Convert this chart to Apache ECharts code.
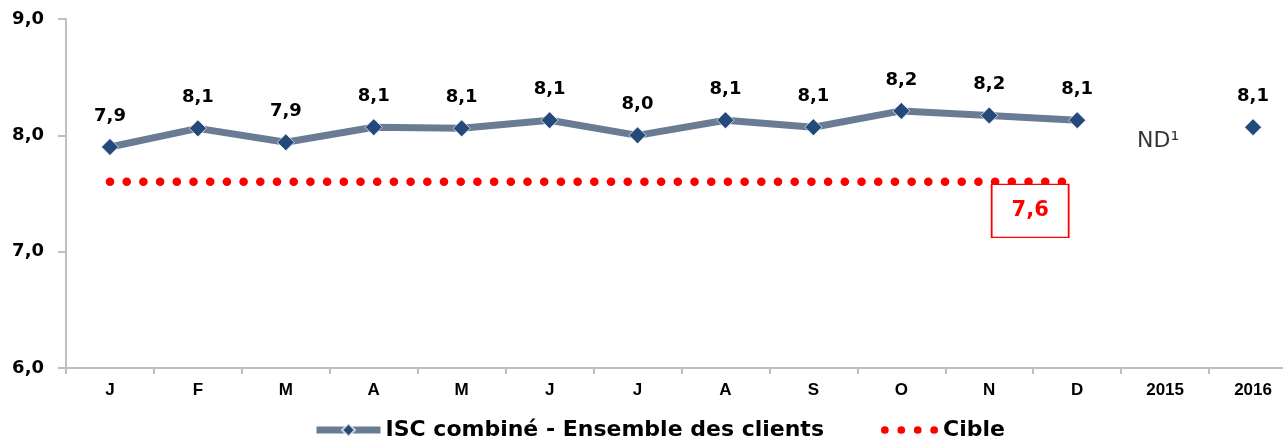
<!DOCTYPE html>
<html>
<head>
<meta charset="utf-8">
<script src="https://cdn.jsdelivr.net/npm/echarts@6/dist/echarts.min.js"></script>
<style>
html,body{margin:0;padding:0;background:#fff;overflow:hidden;width:1283px;height:444px;}
#c{width:1297px;height:444px;}
</style>
</head>
<body>
<div id="c"></div>
<script>
const categories = ['J','F','M','A','M','J','J','A','S','O','N','D','2015','2016'];
const iscValues = [7.90, 8.06, 7.94, 8.07, 8.06, 8.13, 8.00, 8.13, 8.07, 8.21, 8.17, 8.13, null, 8.07];
const iscLabels = ['7,9','8,1','7,9','8,1','8,1','8,1','8,0','8,1','8,1','8,2','8,2','8,1','','8,1'];
const targetValues = [7.6, 7.6, 7.6, 7.6, 7.6, 7.6, 7.6, 7.6, 7.6, 7.6, 7.6, 7.6, null, null];
const targetLabel = '7,6';
const noteCategoryIndex = 12;
const noteValue = 7.945;
const noteText = 'ND¹';
const yTicks = [6, 7, 8, 9];

const seriesName1 = 'ISC combiné - Ensemble des clients';
const seriesName2 = 'Cible';
const FONT = 'DejaVu Sans';

const dotsIcon = 'path://M0,4a4,4 0 1,0 8,0a4,4 0 1,0 -8,0Z M17,4a4,4 0 1,0 8,0a4,4 0 1,0 -8,0Z M34,4a4,4 0 1,0 8,0a4,4 0 1,0 -8,0Z M51,4a4,4 0 1,0 8,0a4,4 0 1,0 -8,0Z';

const legendText = {fontFamily: FONT, fontWeight: 'bold', fontSize: 22, color: '#000'};

const chart = echarts.init(document.getElementById('c'), null, {renderer: 'canvas'});
chart.setOption({
  animation: false,
  backgroundColor: '#ffffff',
  grid: {left: 66, right: 0, top: 19, bottom: 76, containLabel: false},
  legend: [
    {
      data: [{name: seriesName1, lineStyle: {width: 7, color: '#6a7c94'}}],
      left: 308,
      top: 414,
      itemWidth: 64,
      itemHeight: 16,
      itemGap: 5,
      textStyle: legendText
    },
    {
      data: [{name: seriesName2, icon: dotsIcon}],
      left: 876,
      top: 414,
      itemWidth: 57,
      itemHeight: 16,
      textStyle: legendText
    }
  ],
  xAxis: {
    type: 'category',
    data: categories,
    boundaryGap: true,
    axisLine: {show: true, lineStyle: {color: '#bfbfbf', width: 2}},
    axisTick: {show: true, length: 6, lineStyle: {color: '#bfbfbf', width: 2}},
    axisLabel: {
      margin: 14,
      interval: 0,
      fontFamily: 'Liberation Sans',
      fontWeight: 'bold',
      fontSize: 17,
      color: '#000'
    },
    splitLine: {show: false}
  },
  yAxis: {
    type: 'value',
    min: yTicks[0],
    max: yTicks[yTicks.length - 1],
    interval: 1,
    axisLine: {show: true, lineStyle: {color: '#bfbfbf', width: 2}},
    axisTick: {show: true, length: 8, inside: false, lineStyle: {color: '#bfbfbf', width: 2}},
    axisLabel: {
      margin: 22,
      fontFamily: FONT,
      fontWeight: 'bold',
      fontSize: 18,
      color: '#000',
      formatter: v => v.toFixed(1).replace('.', ',')
    },
    splitLine: {show: false}
  },
  series: [
    {
      name: seriesName2,
      type: 'line',
      data: targetValues,
      symbol: 'none',
      z: 1,
      itemStyle: {color: '#ff0000'},
      lineStyle: {color: '#ff0000', width: 8.5, type: [0.1, 16.6], cap: 'round'},
      markPoint: {
        silent: true,
        symbol: 'rect',
        symbolSize: [77, 53],
        symbolOffset: [-47, 29],
        itemStyle: {color: '#ffffff', borderColor: '#ff0000', borderWidth: 1.5},
        label: {
          show: true,
          position: 'inside',
          formatter: targetLabel,
          color: '#ff0000',
          fontFamily: FONT,
          fontWeight: 'bold',
          fontSize: 21
        },
        data: [{coord: [11, targetValues[11]]}]
      }
    },
    {
      name: seriesName1,
      type: 'line',
      data: iscValues,
      z: 3,
      connectNulls: false,
      symbol: 'diamond',
      symbolSize: 17,
      itemStyle: {color: '#24497b', borderColor: 'rgba(255,255,255,0.7)', borderWidth: 1},
      lineStyle: {color: '#6a7c94', width: 7},
      label: {
        show: true,
        position: 'top',
        distance: 13,
        fontFamily: FONT,
        fontWeight: 'bold',
        fontSize: 18,
        color: '#000',
        formatter: p => iscLabels[p.dataIndex]
      }
    },
    {
      name: 'note',
      type: 'scatter',
      data: [[noteCategoryIndex, noteValue]],
      symbolSize: 1,
      itemStyle: {color: 'rgba(0,0,0,0)'},
      silent: true,
      label: {
        show: true,
        position: 'inside',
        offset: [-7, 0],
        formatter: noteText,
        fontFamily: FONT,
        fontSize: 22,
        color: '#000'
      }
    }
  ]
});
</script>
</body>
</html>
